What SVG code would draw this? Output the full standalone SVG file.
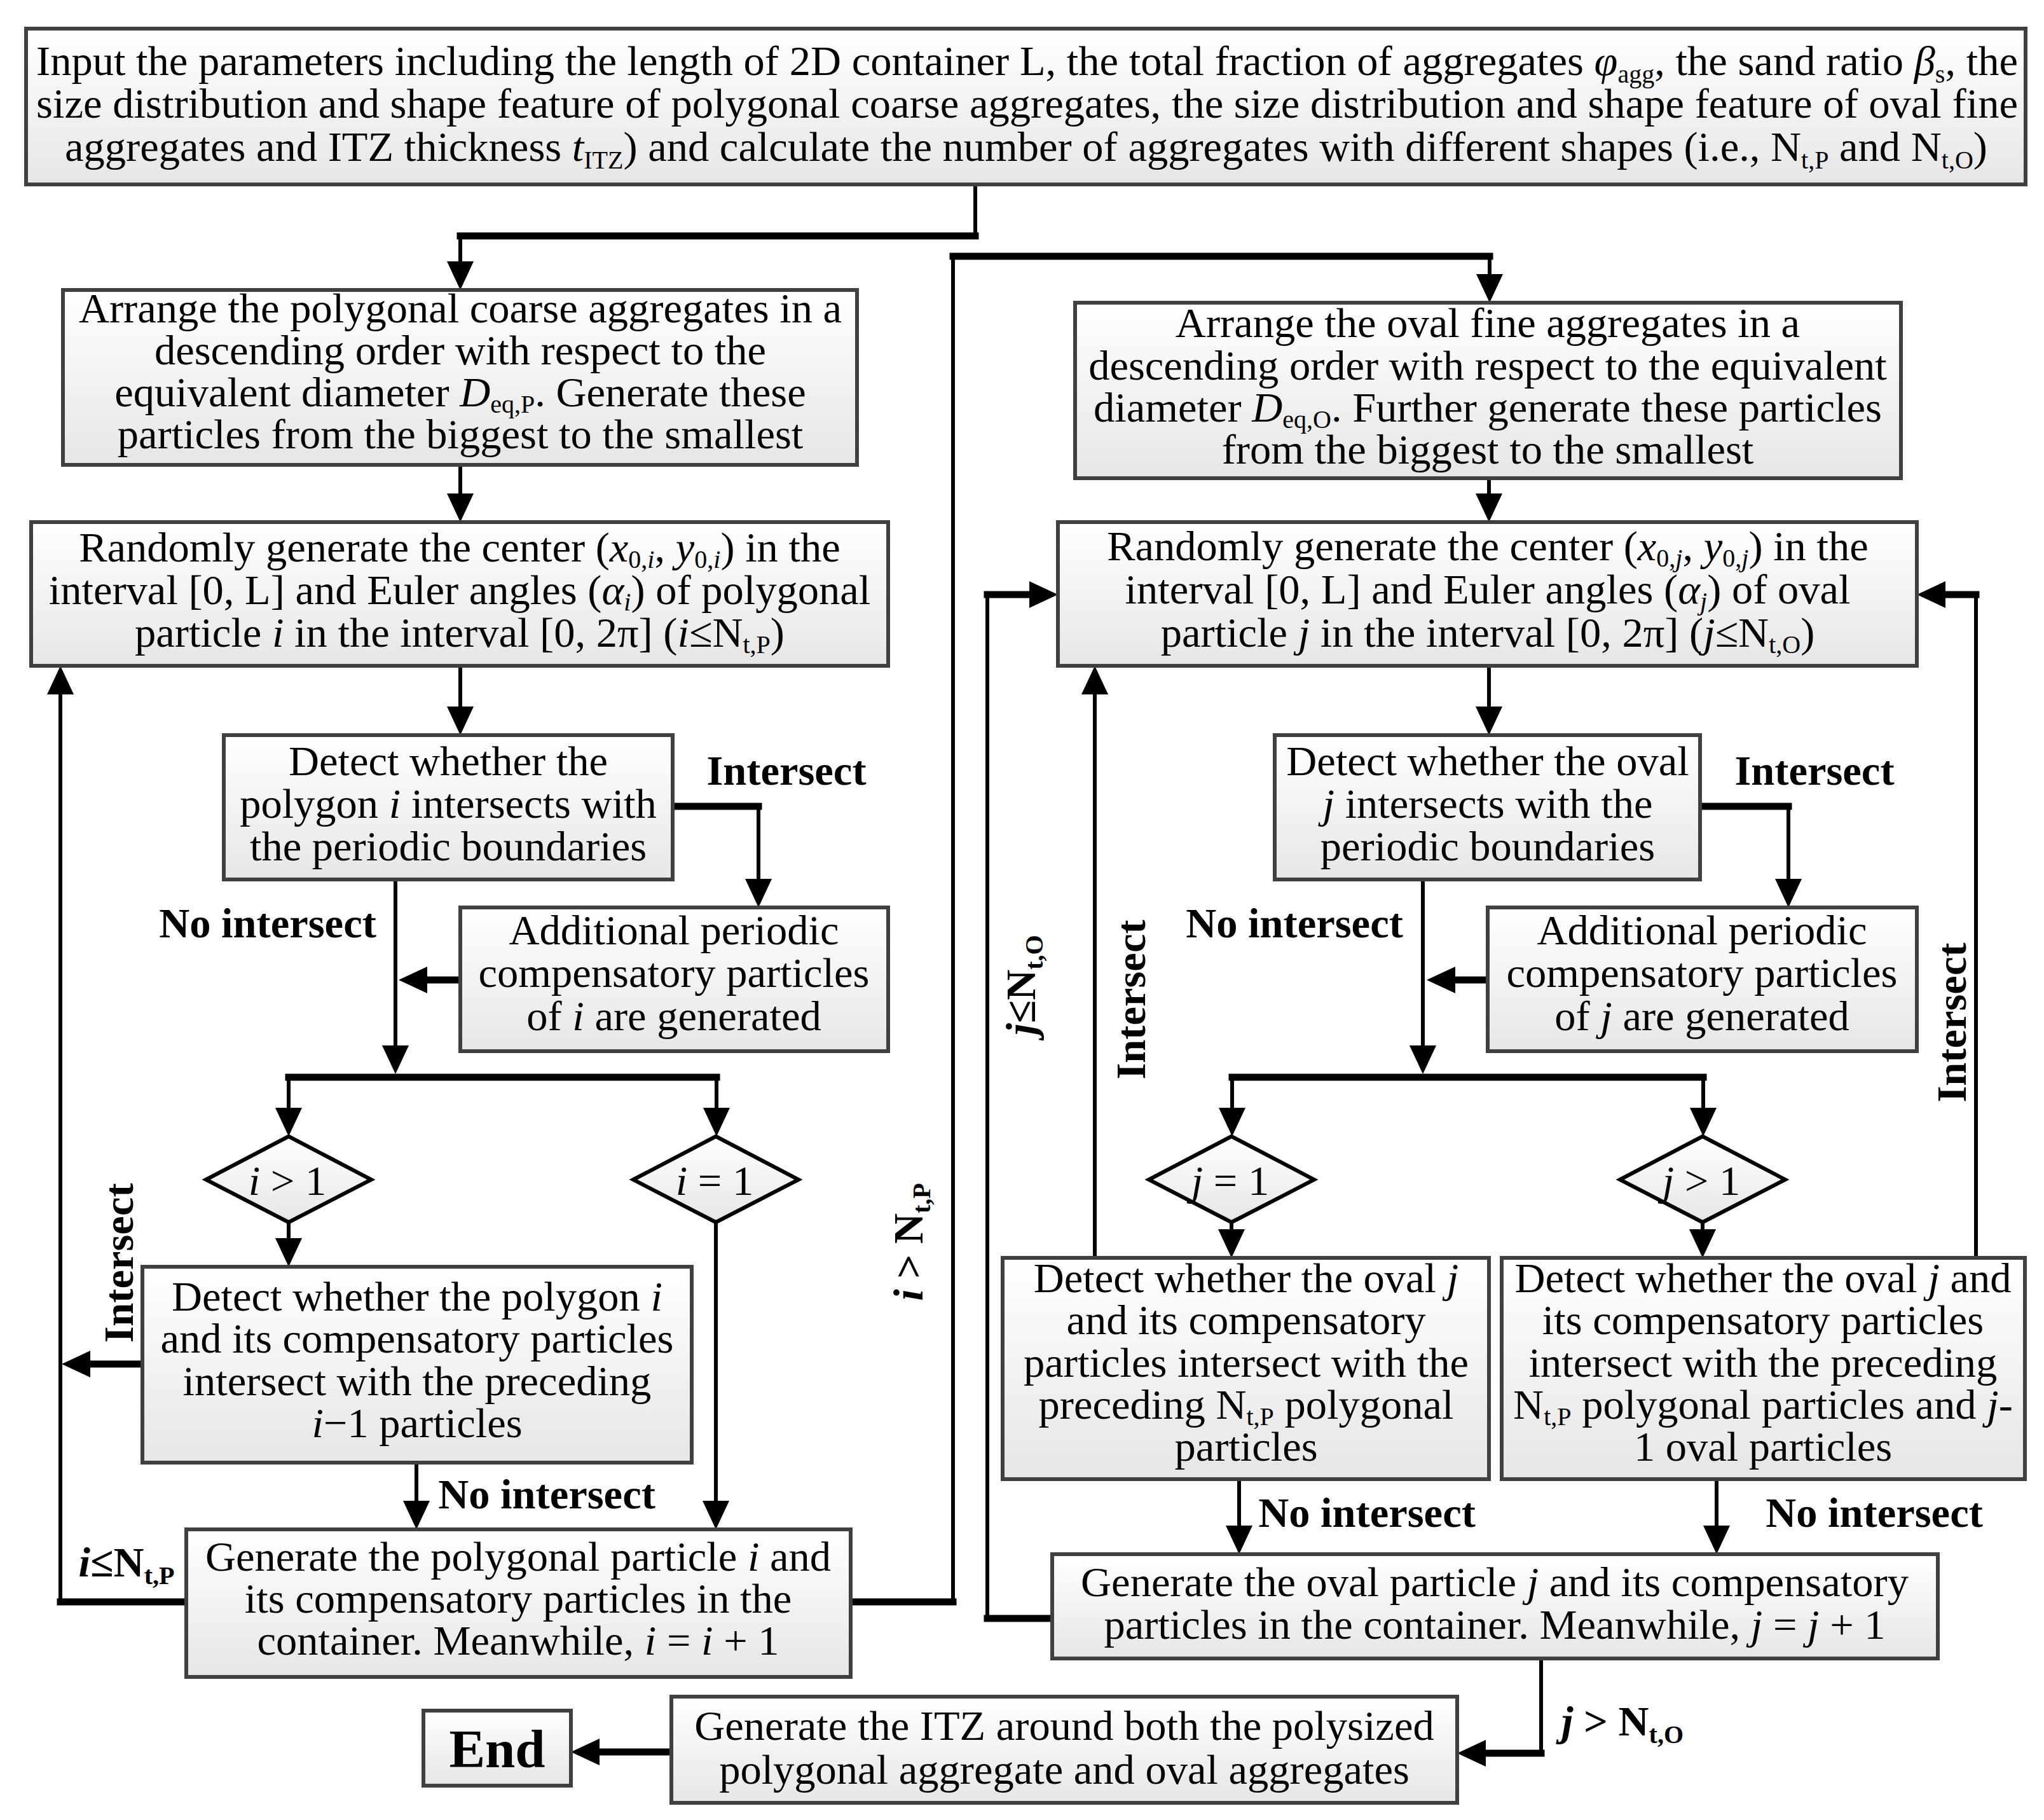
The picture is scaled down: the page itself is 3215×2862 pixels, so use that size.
<svg xmlns="http://www.w3.org/2000/svg" width="3215" height="2862" viewBox="0 0 3215 2862">
<defs>
<linearGradient id="g" x1="0" y1="0" x2="0" y2="1">
<stop offset="0" stop-color="#ffffff"/>
<stop offset="1" stop-color="#e6e6e6"/>
</linearGradient>
<marker id="a" markerUnits="userSpaceOnUse" markerWidth="46" markerHeight="42" refX="0" refY="21" orient="auto" overflow="visible">
<path d="M0,0 L45,21 L0,42 z" fill="#000"/>
</marker>
<style>
.box{fill:url(#g);stroke:#404040;stroke-width:6}
.dia{fill:url(#g);stroke:#000;stroke-width:6}
.t{font-family:"Liberation Serif","Times New Roman",serif;font-size:66.5px;text-anchor:middle;fill:#000}
.b{font-weight:bold}
.i{font-style:italic}
.s{font-size:40px}
.h{stroke:#000;stroke-width:11;stroke-linecap:square;fill:none}
.v{stroke:#000;stroke-width:6;stroke-linecap:square;fill:none}
.ar{marker-end:url(#a)}
</style>
</defs>
<rect width="3215" height="2862" fill="#fff"/>

<g id="connectors">
<path class="v" d="M1534,290 V371"/>
<path class="h" d="M1534,371 H724"/>
<path class="v ar" d="M724,371 V411"/>
<path class="v ar" d="M724,731 V776"/>
<path class="v ar" d="M724,1047 V1111"/>
<path class="h" d="M1058,1268 H1193"/>
<path class="v ar" d="M1193,1268 V1382"/>
<path class="h ar" d="M724,1541 H672"/>
<path class="v ar" d="M622,1383 V1644"/>
<path class="h" d="M454,1694 H1127"/>
<path class="v ar" d="M454,1694 V1742"/>
<path class="v ar" d="M1127,1694 V1742"/>
<path class="v ar" d="M454,1922 V1947"/>
<path class="v ar" d="M655,2300 V2360"/>
<path class="v ar" d="M1126,1922 V2360"/>
<path class="h ar" d="M224,2145 H142"/>
<path class="h" d="M293,2519 H95"/>
<path class="v ar" d="M95,2519 V1092"/>
<path class="h" d="M1338,2519 H1499"/>
<path class="v" d="M1499,2519 V403"/>
<path class="h" d="M1499,403 H2343"/>
<path class="v ar" d="M2343,403 V431"/>
<path class="v ar" d="M2342,752 V776"/>
<path class="v ar" d="M2342,1047 V1111"/>
<path class="h" d="M2674,1268 H2813"/>
<path class="v ar" d="M2813,1268 V1382"/>
<path class="h ar" d="M2340,1541 H2289"/>
<path class="v ar" d="M2238,1383 V1644"/>
<path class="h" d="M1938,1694 H2679"/>
<path class="v ar" d="M1938,1694 V1742"/>
<path class="v ar" d="M2679,1694 V1742"/>
<path class="v ar" d="M1937,1922 V1933"/>
<path class="v ar" d="M2678,1922 V1933"/>
<path class="v ar" d="M1949,2326 V2399"/>
<path class="v ar" d="M2700,2326 V2399"/>
<path class="h" d="M1655,2545 H1553"/>
<path class="v" d="M1553,2545 V935"/>
<path class="h ar" d="M1553,935 H1619"/>
<path class="v ar" d="M1722,1978 V1092"/>
<path class="v" d="M3108,1978 V935"/>
<path class="h ar" d="M3108,935 H3060"/>
<path class="v" d="M2424,2608 V2757"/>
<path class="h ar" d="M2424,2757 H2337"/>
<path class="h ar" d="M1056,2755 H943"/>
</g>

<g id="labels" class="t b">
<text x="1237" y="1234">Intersect</text>
<text x="2854" y="1234">Intersect</text>
<text x="421" y="1474">No intersect</text>
<text x="2036" y="1474">No intersect</text>
<text x="860" y="2372">No intersect</text>
<text x="2150" y="2401">No intersect</text>
<text x="2948" y="2401">No intersect</text>
<text transform="translate(209,1986) rotate(-90)">Intersect</text>
<text transform="translate(1801,1572) rotate(-90)">Intersect</text>
<text transform="translate(3092,1608) rotate(-90)">Intersect</text>
<text transform="translate(1451,1953) rotate(-90)"><tspan class="i">i</tspan> &gt; N<tspan class="s" dy="12">t,P</tspan></text>
<text transform="translate(1628,1549) rotate(-90)"><tspan class="i">j</tspan>≤N<tspan class="s" dy="12">t,O</tspan></text>
<text x="199" y="2479"><tspan class="i">i</tspan>≤N<tspan class="s" dy="12">t,P</tspan></text>
<text x="2552" y="2729"><tspan class="i">j</tspan> &gt; N<tspan class="s" dy="12">t,O</tspan></text>
</g>

<g id="n-input">
<rect class="box" x="41" y="45" width="3145" height="245"/>
<text class="t" x="57" y="118" style="text-anchor:start" textLength="3117" lengthAdjust="spacing">Input the parameters including the length of 2D container L, the total fraction of aggregates <tspan class="i">φ</tspan><tspan class="s" dy="12">agg</tspan><tspan dy="-12">, the sand ratio </tspan><tspan class="i">β</tspan><tspan class="s" dy="12">s</tspan><tspan dy="-12">, the</tspan></text>
<text class="t" x="57" y="185" style="text-anchor:start" textLength="3117" lengthAdjust="spacing">size distribution and shape feature of polygonal coarse aggregates, the size distribution and shape feature of oval fine</text>
<text class="t" x="1614" y="253">aggregates and ITZ thickness <tspan class="i">t</tspan><tspan class="s" dy="12">ITZ</tspan><tspan dy="-12">) and calculate the number of aggregates with different shapes (i.e., N</tspan><tspan class="s" dy="12">t,P</tspan><tspan dy="-12"> and N</tspan><tspan class="s" dy="12">t,O</tspan><tspan dy="-12">)</tspan></text>
</g>

<g id="n-arrange-p">
<rect class="box" x="99" y="456" width="1249" height="275"/>
<text class="t" x="724" y="507">Arrange the polygonal coarse aggregates in a</text>
<text class="t" x="724" y="573">descending order with respect to the</text>
<text class="t" x="724" y="639">equivalent diameter <tspan class="i">D</tspan><tspan class="s" dy="10">eq,P</tspan><tspan dy="-10">. Generate these</tspan></text>
<text class="t" x="724" y="705">particles from the biggest to the smallest</text>
</g>

<g id="n-random-p">
<rect class="box" x="49" y="821" width="1348" height="226"/>
<text class="t" x="723" y="883">Randomly generate the center (<tspan class="i">x</tspan><tspan class="s" dy="10">0,<tspan class="i">i</tspan></tspan><tspan dy="-10">, </tspan><tspan class="i">y</tspan><tspan class="s" dy="10">0,<tspan class="i">i</tspan></tspan><tspan dy="-10">) in the</tspan></text>
<text class="t" x="723" y="950">interval [0, L] and Euler angles (<tspan class="i">α</tspan><tspan class="s i" dy="10">i</tspan><tspan dy="-10">)  of polygonal</tspan></text>
<text class="t" x="723" y="1017">particle <tspan class="i">i</tspan> in the interval [0, 2π] (<tspan class="i">i</tspan>≤N<tspan class="s" dy="10">t,P</tspan><tspan dy="-10">)</tspan></text>
</g>

<g id="n-detect-p">
<rect class="box" x="352" y="1156" width="706" height="227"/>
<text class="t" x="705" y="1219">Detect whether the</text>
<text class="t" x="705" y="1286">polygon <tspan class="i">i</tspan> intersects with</text>
<text class="t" x="705" y="1353">the periodic boundaries</text>
</g>

<g id="n-add-p">
<rect class="box" x="724" y="1427" width="673" height="226"/>
<text class="t" x="1060" y="1485">Additional periodic</text>
<text class="t" x="1060" y="1552">compensatory particles</text>
<text class="t" x="1060" y="1620">of <tspan class="i">i</tspan> are generated</text>
</g>

<g id="n-dia-i-gt">
<polygon class="dia" points="324,1855 454,1787 584,1855 454,1922"/>
<text class="t" x="452" y="1879"><tspan class="i">i</tspan>  &gt; 1</text>
</g>

<g id="n-dia-i-eq">
<polygon class="dia" points="996,1855 1126,1787 1256,1855 1126,1922"/>
<text class="t" x="1124" y="1879"><tspan class="i">i</tspan>  = 1</text>
</g>

<g id="n-detect-prev-p">
<rect class="box" x="224" y="1992" width="864" height="308"/>
<text class="t" x="656" y="2061">Detect whether the polygon <tspan class="i">i</tspan></text>
<text class="t" x="656" y="2127">and its compensatory particles</text>
<text class="t" x="656" y="2194">intersect with the preceding</text>
<text class="t" x="656" y="2260"><tspan class="i">i</tspan>−1 particles</text>
</g>

<g id="n-gen-p">
<rect class="box" x="293" y="2405" width="1045" height="232"/>
<text class="t" x="815" y="2470">Generate the polygonal particle <tspan class="i">i</tspan> and</text>
<text class="t" x="815" y="2536">its compensatory particles in the</text>
<text class="t" x="815" y="2602">container. Meanwhile, <tspan class="i">i</tspan> = <tspan class="i">i</tspan> + 1</text>
</g>

<g id="n-arrange-o">
<rect class="box" x="1691" y="476" width="1299" height="276"/>
<text class="t" x="2340" y="530">Arrange the oval fine aggregates in a</text>
<text class="t" x="2340" y="597">descending order with respect to the equivalent</text>
<text class="t" x="2340" y="663">diameter <tspan class="i">D</tspan><tspan class="s" dy="10">eq,O</tspan><tspan dy="-10">. Further generate these particles</tspan></text>
<text class="t" x="2340" y="729">from the biggest to the smallest</text>
</g>

<g id="n-random-o">
<rect class="box" x="1664" y="821" width="1351" height="226"/>
<text class="t" x="2340" y="881">Randomly generate the center (<tspan class="i">x</tspan><tspan class="s" dy="10">0,<tspan class="i">j</tspan></tspan><tspan dy="-10">, </tspan><tspan class="i">y</tspan><tspan class="s" dy="10">0,<tspan class="i">j</tspan></tspan><tspan dy="-10">) in the</tspan></text>
<text class="t" x="2340" y="949">interval [0, L] and Euler angles (<tspan class="i">α</tspan><tspan class="s i" dy="10">j</tspan><tspan dy="-10">)  of oval</tspan></text>
<text class="t" x="2340" y="1017">particle <tspan class="i">j</tspan> in the interval [0, 2π] (<tspan class="i">j</tspan>≤N<tspan class="s" dy="10">t,O</tspan><tspan dy="-10">)</tspan></text>
</g>

<g id="n-detect-o">
<rect class="box" x="2005" y="1156" width="669" height="227"/>
<text class="t" x="2340" y="1219">Detect whether the oval</text>
<text class="t" x="2340" y="1286"><tspan class="i">j</tspan> intersects with the</text>
<text class="t" x="2340" y="1353">periodic boundaries</text>
</g>

<g id="n-add-o">
<rect class="box" x="2340" y="1427" width="675" height="226"/>
<text class="t" x="2677" y="1485">Additional periodic</text>
<text class="t" x="2677" y="1552">compensatory particles</text>
<text class="t" x="2677" y="1620">of <tspan class="i">j</tspan> are generated</text>
</g>

<g id="n-dia-j-eq">
<polygon class="dia" points="1807,1855 1937,1787 2067,1855 1937,1922"/>
<text class="t" x="1935" y="1879"><tspan class="i">j</tspan>  = 1</text>
</g>

<g id="n-dia-j-gt">
<polygon class="dia" points="2548,1855 2678,1787 2808,1855 2678,1922"/>
<text class="t" x="2676" y="1879"><tspan class="i">j</tspan> &gt; 1</text>
</g>

<g id="n-detect-o1">
<rect class="box" x="1577" y="1978" width="765" height="348"/>
<text class="t" x="1960" y="2032">Detect whether the oval <tspan class="i">j</tspan></text>
<text class="t" x="1960" y="2098">and its compensatory</text>
<text class="t" x="1960" y="2165">particles intersect with the</text>
<text class="t" x="1960" y="2231">preceding N<tspan class="s" dy="10">t,P</tspan><tspan dy="-10"> polygonal</tspan></text>
<text class="t" x="1960" y="2297">particles</text>
</g>

<g id="n-detect-o2">
<rect class="box" x="2362" y="1978" width="823" height="348"/>
<text class="t" x="2773" y="2032">Detect whether the oval <tspan class="i">j</tspan> and</text>
<text class="t" x="2773" y="2098">its compensatory particles</text>
<text class="t" x="2773" y="2165">intersect with the preceding</text>
<text class="t" x="2773" y="2231">N<tspan class="s" dy="10">t,P</tspan><tspan dy="-10"> polygonal particles and </tspan><tspan class="i">j</tspan>-</text>
<text class="t" x="2773" y="2297">1 oval particles</text>
</g>

<g id="n-gen-o">
<rect class="box" x="1655" y="2444" width="1393" height="164"/>
<text class="t" x="2351" y="2510">Generate the oval particle <tspan class="i">j</tspan> and its compensatory</text>
<text class="t" x="2351" y="2577">particles in the container. Meanwhile, <tspan class="i">j</tspan> = <tspan class="i">j</tspan> + 1</text>
</g>

<g id="n-itz">
<rect class="box" x="1056" y="2668" width="1236" height="167"/>
<text class="t" x="1674" y="2736">Generate the ITZ around both the polysized</text>
<text class="t" x="1674" y="2805">polygonal aggregate and oval aggregates</text>
</g>

<g id="n-end">
<rect class="box" x="666" y="2690" width="232" height="118"/>
<text class="t b" x="782" y="2779" style="font-size:85px">End</text>
</g>
</svg>
